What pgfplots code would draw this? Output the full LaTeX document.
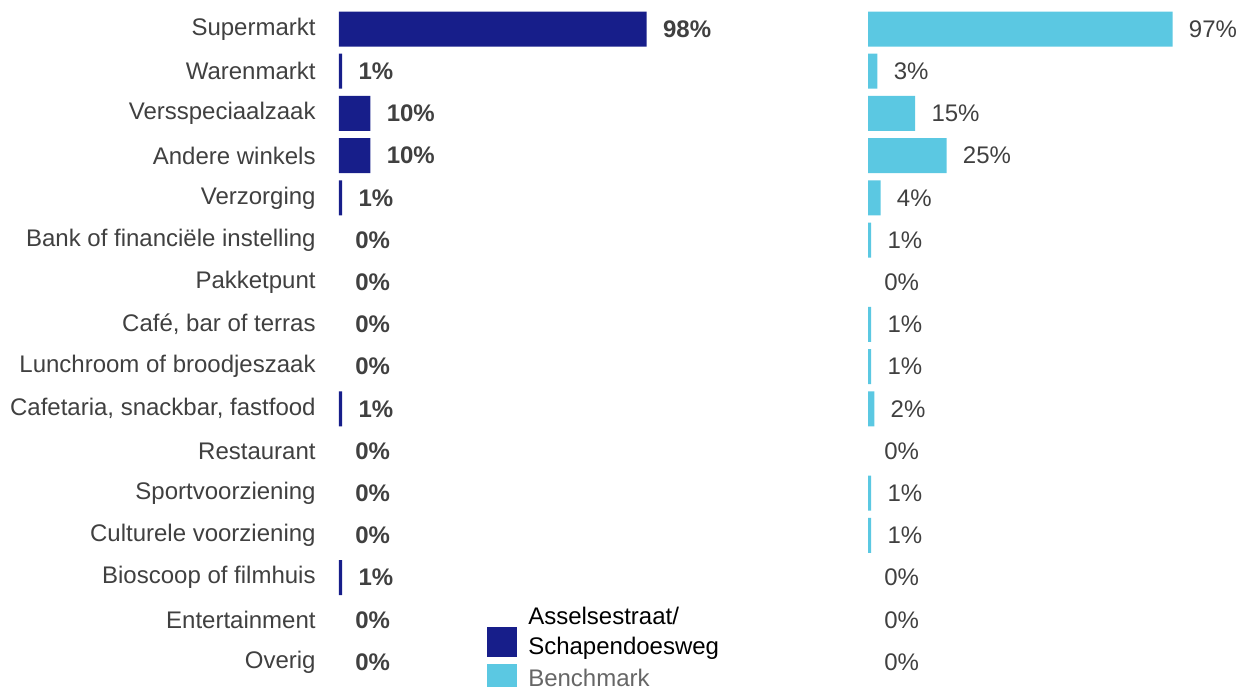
\documentclass[border=0pt]{standalone}
\usepackage{pgfplots}
\usepackage{pgfplotstable}
\pgfplotsset{compat=1.18}
\usepackage{fontspec}
\setmainfont{Liberation Sans}
\definecolor{navy}{HTML}{171E8A}
\definecolor{cyanbar}{HTML}{5BC8E2}
\definecolor{txt}{HTML}{404040}

% share (%) per category, row = category index from the top
\pgfplotstableread{
row val
0 98
1 1
2 10
3 10
4 1
5 0
6 0
7 0
8 0
9 1
10 0
11 0
12 0
13 1
14 0
15 0
}\asselse
\pgfplotstableread{
row val
0 97
1 3
2 15
3 25
4 4
5 1
6 0
7 1
8 1
9 2
10 0
11 1
12 1
13 0
14 0
15 0
}\benchmark

\pgfplotsset{
  panel/.style={
    xbar, bar shift=0pt, x=1.57pt, y=21.1pt,
    xmin=0, xmax=100, ymin=-0.5, ymax=15.5,
    y dir=reverse, clip=false, bar width=17.5pt,
    axis line style={draw=none}, major tick length=0pt,
    xtick=\empty,
    /pgf/number format/assume math mode=true,
    nodes near coords style={anchor=west, inner sep=0pt, xshift=8pt, text=txt},
    legend image code/.code={\fill[##1] (0pt,-7.5pt) rectangle (15pt,7.5pt);},
  },
  darkimg/.style={legend image code/.code={\fill[##1] (0pt,-12pt) rectangle (15pt,3pt);}},
  bars/.style={draw=none, x filter/.expression={x==0 ? nan : x}},
  labels/.style={draw=none, fill=none, forget plot},
}

\begin{document}
\fontsize{12}{14.4}\selectfont
\begin{tikzpicture}
\begin{axis}[
  panel,
  ytick={0,...,15},
  yticklabels={Supermarkt, Warenmarkt, Versspeciaalzaak, Andere winkels, Verzorging,
    Bank of financiële instelling, Pakketpunt, {Café, bar of terras},
    Lunchroom of broodjeszaak, {Cafetaria, snackbar, fastfood}, Restaurant,
    Sportvoorziening, Culturele voorziening, Bioscoop of filmhuis,
    Entertainment, Overig},
  yticklabel style={inner sep=0pt, xshift=-11.5pt, text=txt},
  legend style={draw=none, fill=none, inner sep=0pt,
    at={(0.471,0.1126)}, anchor=north west,
    nodes={align=left, inner sep=0pt}, row sep=3pt, column sep=5.5pt,
    font=\fontsize{12}{15}\selectfont},
  legend cell align=left,
]
\addplot[bars, fill=navy, darkimg] table[x=val, y=row] {\asselse};
\addlegendentry{Asselsestraat/\\Schapendoesweg}
\addplot[labels,
  nodes near coords={\bfseries\pgfmathprintnumber{\pgfplotspointmeta}\%}]
  table[x=val, y=row] {\asselse};
\addlegendimage{fill=cyanbar, draw=none}
\addlegendentry{\textcolor{txt!80}{Benchmark}}
\end{axis}
\begin{axis}[
  panel,
  at={(264.5pt,0pt)},
  ytick=\empty,
]
\addplot[bars, fill=cyanbar] table[x=val, y=row] {\benchmark};
\addplot[labels,
  nodes near coords={\pgfmathprintnumber{\pgfplotspointmeta}\%}]
  table[x=val, y=row] {\benchmark};
\end{axis}
\pgfresetboundingbox
\useasboundingbox (-169.5pt,-1.45pt) rectangle (449pt,341.55pt);
\end{tikzpicture}
\end{document}
